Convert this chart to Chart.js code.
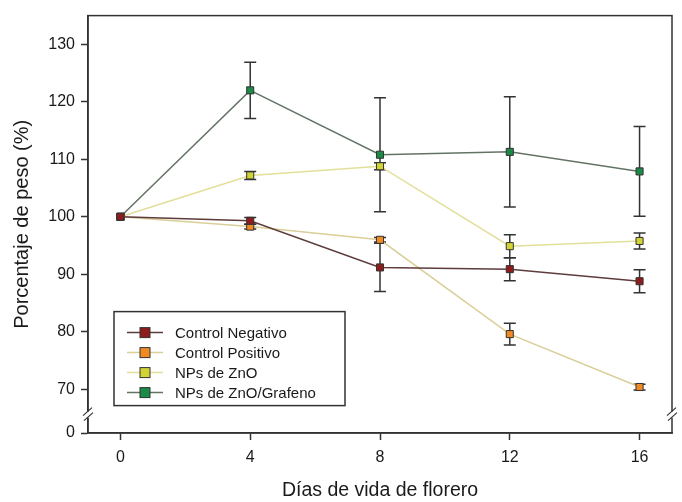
<!DOCTYPE html>
<html>
<head>
<meta charset="utf-8">
<script src="https://cdn.jsdelivr.net/npm/chart.js@4.4.1/dist/chart.umd.min.js"></script>
<style>
  body { margin: 0; background: #fff; }
  #wrap { width: 682px; height: 502px; }
</style>
</head>
<body>
<div id="wrap"><canvas id="chart" width="682" height="502"></canvas></div>
<script>
// datos
const dias = [0, 4, 8, 12, 16];
const controlNegativo = [100, 99.3, 91.2, 90.9, 88.8];
const errNegativo = [0, 0.6, 4.2, 2.0, 2.0];
const controlPositivo = [100, 98.3, 96.0, 79.6, 70.4];
const errPositivo = [0, 0.4, 0.4, 1.9, 0.5];
const npsZnO = [100, 107.2, 108.8, 94.9, 95.8];
const errZnO = [0, 0.7, 0.6, 2.0, 1.4];
const npsGrafeno = [100, 122.0, 110.8, 111.3, 107.9];
const errGrafeno = [0, 4.9, 9.9, 9.6, 7.8];

// eje y con corte: el valor 62.4 hace de "0"
const yTicks = [62.4, 70, 80, 90, 100, 110, 120, 130];
const yTickLabels = ['0', '70', '80', '90', '100', '110', '120', '130'];
const xTicks = [0, 4, 8, 12, 16];

const toXY = (vals) => vals.map((v, i) => ({ x: dias[i], y: v }));

function serie(label, vals, errs, lineColor, markColor) {
  return {
    label: label,
    data: toXY(vals),
    errors: errs,
    borderColor: lineColor,
    borderWidth: 1.5,
    backgroundColor: markColor,
    pointBackgroundColor: markColor,
    pointBorderColor: '#333',
    pointBorderWidth: 1,
    pointStyle: 'rect',
    pointRadius: 5,
    tension: 0,
  };
}

const datasets = [
  serie('Control Negativo', controlNegativo, errNegativo, '#5e3c3c', '#8e1c1c'),
  serie('Control Positivo', controlPositivo, errPositivo, '#d9cf98', '#f08a24'),
  serie('NPs de ZnO', npsZnO, errZnO, '#e3df9a', '#d2d436'),
  serie('NPs de ZnO/Grafeno', npsGrafeno, errGrafeno, '#647464', '#1b8a48'),
];

const fontFam = '"Liberation Sans", Arial, sans-serif';

// barras de error, marco, cortes del eje y leyenda
const extras = {
  id: 'extras',
  beforeDatasetsDraw(chart) {
    const { ctx, scales: { x, y } } = chart;
    ctx.save();
    ctx.strokeStyle = '#333';
    ctx.lineWidth = 1.5;
    chart.data.datasets.forEach((ds) => {
      ds.data.forEach((p, i) => {
        const e = ds.errors[i];
        if (!e) return;
        const px = x.getPixelForValue(p.x);
        const top = y.getPixelForValue(p.y + e);
        const bot = y.getPixelForValue(p.y - e);
        ctx.beginPath();
        ctx.moveTo(px, top); ctx.lineTo(px, bot);
        ctx.moveTo(px - 6, top); ctx.lineTo(px + 6, top);
        ctx.moveTo(px - 6, bot); ctx.lineTo(px + 6, bot);
        ctx.stroke();
      });
    });
    ctx.restore();
  },
  afterDraw(chart) {
    const { ctx, chartArea: a, scales: { y } } = chart;
    ctx.save();
    ctx.strokeStyle = '#333';
    ctx.lineWidth = 1.5;
    ctx.strokeRect(a.left, a.top, a.right - a.left, a.bottom - a.top);

    // marcas de corte
    const by = y.getPixelForValue(65.6);
    [a.left, a.right].forEach((bx) => {
      ctx.fillStyle = '#fff';
      ctx.fillRect(bx - 3, by - 3, 6, 6);
      ctx.beginPath();
      ctx.moveTo(bx - 5, by + 1); ctx.lineTo(bx + 4, by - 7);
      ctx.moveTo(bx - 4, by + 6); ctx.lineTo(bx + 5, by - 2);
      ctx.lineWidth = 1.2;
      ctx.stroke();
    });

    // leyenda
    const lx = a.left + 26, ly = a.top + 296, lw = 231, lh = 94;
    ctx.lineWidth = 1.5;
    ctx.strokeStyle = '#333';
    ctx.fillStyle = '#fff';
    ctx.fillRect(lx, ly, lw, lh);
    ctx.strokeRect(lx, ly, lw, lh);
    ctx.font = '15px ' + fontFam;
    ctx.textBaseline = 'middle';
    chart.data.datasets.forEach((ds, i) => {
      const ry = ly + 21 + i * 20;
      ctx.strokeStyle = ds.borderColor;
      ctx.lineWidth = 1.5;
      ctx.beginPath();
      ctx.moveTo(lx + 13, ry); ctx.lineTo(lx + 49, ry);
      ctx.stroke();
      ctx.fillStyle = ds.pointBackgroundColor;
      ctx.fillRect(lx + 26, ry - 5, 10, 10);
      ctx.strokeStyle = '#333';
      ctx.lineWidth = 1;
      ctx.strokeRect(lx + 26, ry - 5, 10, 10);
      ctx.fillStyle = '#1a1a1a';
      ctx.fillText(ds.label, lx + 61, ry + 1);
    });
    ctx.restore();
  }
};

new Chart(document.getElementById('chart'), {
  type: 'line',
  data: { datasets: datasets },
  plugins: [extras],
  options: {
    responsive: false,
    animation: false,
    layout: { padding: { top: 11, right: 10, left: 0, bottom: 0 } },
    plugins: {
      legend: { display: false },
      tooltip: { enabled: false },
    },
    scales: {
      x: {
        type: 'linear',
        min: -1,
        max: 17,
        afterBuildTicks: (s) => { s.ticks = xTicks.map((v) => ({ value: v })); },
        afterFit: (s) => { s.height = 69; },
        grid: { drawOnChartArea: false, tickLength: 7, color: '#333', tickWidth: 1.5 },
        border: { color: '#333', width: 1.5 },
        ticks: { color: '#1a1a1a', font: { family: fontFam, size: 16 }, padding: 8, maxRotation: 0 },
        title: {
          display: true,
          text: 'Días de vida de florero',
          color: '#1a1a1a',
          font: { family: fontFam, size: 19.5 },
          padding: { top: 0, bottom: 0 },
        },
      },
      y: {
        type: 'linear',
        min: 62.4,
        max: 135,
        afterBuildTicks: (s) => { s.ticks = yTicks.map((v) => ({ value: v })); },
        afterFit: (s) => { s.width = 88; },
        grid: { drawOnChartArea: false, tickLength: 7, color: '#333', tickWidth: 1.5 },
        border: { color: '#333', width: 1.5 },
        ticks: {
          color: '#1a1a1a',
          font: { family: fontFam, size: 16 },
          padding: 6,
          callback: (v) => yTickLabels[yTicks.indexOf(v)],
        },
        title: {
          display: true,
          text: 'Porcentaje de peso (%)',
          color: '#1a1a1a',
          font: { family: fontFam, size: 20 },
          padding: { top: 10, bottom: 0 },
        },
      },
    },
  },
});
</script>
</body>
</html>
